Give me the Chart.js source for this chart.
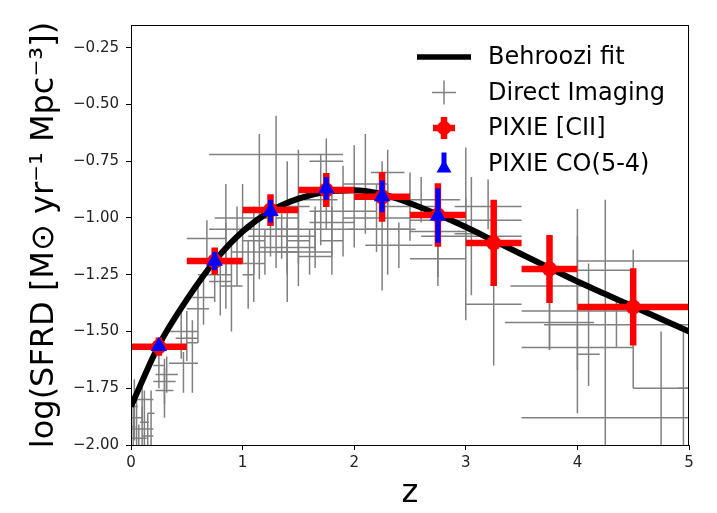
<!DOCTYPE html>
<html>
<head>
<meta charset="utf-8">
<script src="https://cdn.jsdelivr.net/npm/chart.js@4.4.1/dist/chart.umd.min.js"></script>
<style>
  body { margin: 0; background: #fff; }
  #wrap { width: 717px; height: 513px; }
</style>
</head>
<body>
<div id="wrap"><canvas id="sfrdChart"></canvas></div>
<script>
// Behroozi fit
const fitZ = [0, 0.25, 0.5, 0.75, 1.0, 1.25, 1.5, 1.75, 2.0, 2.25, 2.5, 2.75, 3.0, 3.25, 3.5, 3.75, 4.0, 4.25, 4.5, 4.75, 5.0];
const fitY = [-1.83, -1.56, -1.36, -1.19, -1.06, -0.97, -0.915, -0.885, -0.878, -0.895, -0.935, -0.985, -1.04, -1.10, -1.16, -1.22, -1.28, -1.335, -1.39, -1.445, -1.50];

// Direct imaging points: z, half width in z, value, lower / upper error
const diZ    = [0.05, 0.10, 0.07, 0.03, 0.15, 0.12, 0.10, 0.30, 0.30, 0.32, 0.25, 0.47, 0.50, 0.45, 0.55,
                0.68, 0.75, 0.80, 0.65, 0.85, 0.90, 0.95, 0.60, 0.85, 1.30, 1.15, 1.10, 1.25, 1.40, 1.20,
                1.50, 1.05, 1.00, 1.10, 1.40, 1.65, 1.80, 1.50, 1.70, 1.80, 1.90, 2.00, 2.10, 1.65, 2.20,
                2.30, 2.50, 1.60, 2.40, 1.75, 1.35, 1.40, 2.75, 2.75, 3.00, 2.60, 2.25, 2.30, 3.05, 3.25,
                3.00, 3.75, 4.00, 4.25, 4.50, 4.75, 4.10, 4.00, 4.00, 4.95, 3.75, 3.20, 4.35, 0.02, 0.18];
const diZErr = [0.05, 0.10, 0.07, 0.03, 0.05, 0.04, 0.10, 0.10, 0.08, 0.10, 0.05, 0.13, 0.10, 0.15, 0.05,
                0.18, 0.15, 0.10, 0.10, 0.15, 0.10, 0.05, 0.10, 0.15, 0.60, 0.15, 0.10, 0.25, 0.10, 0.20,
                0.10, 0.05, 0.25, 0.10, 0.10, 0.15, 0.10, 0.10, 0.15, 0.20, 0.30, 0.25, 0.20, 0.35, 0.30,
                0.20, 0.25, 0.20, 0.30, 0.15, 0.30, 0.25, 0.25, 0.25, 0.10, 0.35, 0.30, 0.15, 0.45, 0.25,
                0.50, 0.35, 0.50, 0.75, 0.50, 0.25, 0.10, 0.50, 0.50, 0.05, 0.40, 0.30, 0.65, 0.02, 0.03];
const diY    = [-1.88, -1.93, -1.97, -1.83, -1.96, -1.90, -1.80, -1.72, -1.76, -1.69, -1.65, -1.64, -1.53, -1.50, -1.55,
                -1.09, -1.25, -1.28, -1.35, -1.20, -1.30, -1.15, -1.40, -1.05, -0.72, -0.97, -1.10, -1.05, -1.00, -1.15,
                -1.10, -1.25, -1.00, -1.20, -1.15, -1.17, -1.10, -0.95, -0.92, -1.02, -0.97, -0.88, -0.85, -1.05, -1.00,
                -1.05, -0.95, -1.15, -1.12, -0.75, -1.08, -1.13, -1.06, -1.18, -1.07, -0.92, -1.05, -0.80, -1.08, -1.38,
                -1.01, -1.30, -1.41, -1.88, -1.19, -1.75, -1.60, -1.57, -1.23, -1.75, -1.46, -0.95, -1.47, -1.92, -1.86];
const diYLo  = [0.12, 0.10, 0.08, 0.15, 0.06, 0.12, 0.10, 0.10, 0.12, 0.08, 0.10, 0.13, 0.10, 0.12, 0.22,
                0.12, 0.12, 0.15, 0.12, 0.20, 0.20, 0.15, 0.15, 0.20, 0.50, 0.30, 0.15, 0.12, 0.25, 0.10,
                0.20, 0.15, 0.20, 0.17, 0.22, 0.05, 0.15, 0.25, 0.20, 0.15, 0.20, 0.25, 0.22, 0.10, 0.15,
                0.20, 0.15, 0.10, 0.10, 0.30, 0.10, 0.10, 0.20, 0.12, 0.38, 0.10, 0.27, 0.15, 0.26, 0.27,
                0.10, 0.28, 0.45, 0.12, 0.56, 0.25, 0.14, 0.10, 0.15, 0.25, 0.12, 0.10, 0.10, 0.10, 0.14];
const diYHi  = [0.12, 0.10, 0.06, 0.12, 0.10, 0.14, 0.10, 0.10, 0.10, 0.08, 0.10, 0.05, 0.12, 0.10, 0.10,
                0.08, 0.10, 0.12, 0.10, 0.18, 0.20, 0.20, 0.10, 0.20, 0.17, 0.34, 0.15, 0.12, 0.25, 0.10,
                0.20, 0.15, 0.15, 0.10, 0.15, 0.20, 0.15, 0.25, 0.20, 0.15, 0.20, 0.20, 0.22, 0.10, 0.15,
                0.20, 0.15, 0.10, 0.10, 0.10, 0.10, 0.10, 0.20, 0.10, 0.38, 0.10, 0.30, 0.10, 0.26, 0.12,
                0.10, 0.03, 0.45, 0.96, 0.05, 0.25, 0.40, 0.10, 0.15, 0.25, 0.10, 0.12, 0.10, 0.12, 0.10];

// PIXIE [CII]
const ciiZ    = [0.25, 0.75, 1.25, 1.75, 2.25, 2.75, 3.25, 3.75, 4.5];
const ciiZErr = [0.25, 0.25, 0.25, 0.25, 0.25, 0.25, 0.25, 0.25, 0.5];
const ciiY    = [-1.567, -1.19, -0.965, -0.877, -0.907, -0.987, -1.11, -1.225, -1.392];
const ciiYErr = [0.04, 0.06, 0.07, 0.075, 0.11, 0.14, 0.19, 0.15, 0.17];

// PIXIE CO(5-4)
const coZ    = [0.25, 0.75, 1.25, 1.75, 2.25, 2.75];
const coY    = [-1.565, -1.19, -0.97, -0.87, -0.905, -0.99];
const coYErr = [0.02, 0.04, 0.05, 0.05, 0.07, 0.12];

const xTicks = [0, 1, 2, 3, 4, 5];
const yTicks = [-2.0, -1.75, -1.5, -1.25, -1.0, -0.75, -0.5, -0.25];

const legendLabels = ['Behroozi fit', 'Direct Imaging', 'PIXIE [CII]', 'PIXIE CO(5-4)'];

function pts(xs, ys) {
    return xs.map((x, i) => ({ x: x, y: ys[i] }));
}

// error bars drawn underneath each dataset's markers
const errorBars = {
    id: 'errorBars',
    beforeDatasetDraw(chart, args) {
        const ds = chart.data.datasets[args.index];
        if (!ds.errYLo) return;
        const ctx = chart.ctx, xs = chart.scales.x, ys = chart.scales.y, a = chart.chartArea;
        ctx.save();
        ctx.beginPath();
        ctx.rect(a.left, a.top, a.right - a.left, a.bottom - a.top);
        ctx.clip();
        ctx.strokeStyle = ds.errColor;
        ctx.lineWidth = ds.errWidth;
        ctx.lineCap = 'butt';
        ds.data.forEach((p, i) => {
            const px = xs.getPixelForValue(p.x), py = ys.getPixelForValue(p.y);
            ctx.beginPath();
            if (ds.errX) {
                ctx.moveTo(xs.getPixelForValue(p.x - ds.errX[i]), py);
                ctx.lineTo(xs.getPixelForValue(p.x + ds.errX[i]), py);
            }
            ctx.moveTo(px, ys.getPixelForValue(p.y - ds.errYLo[i]));
            ctx.lineTo(px, ys.getPixelForValue(p.y + ds.errYHi[i]));
            ctx.stroke();
        });
        ctx.restore();
    }
};

// axes box and legend
const frameAndLegend = {
    id: 'frameAndLegend',
    afterDraw(chart) {
        const ctx = chart.ctx, a = chart.chartArea;
        ctx.save();
        ctx.strokeStyle = '#000';
        ctx.lineWidth = 1;
        ctx.strokeRect(a.left + 0.5, a.top + 0.5, a.right - a.left - 1, a.bottom - a.top);

        const mx = 444, tx = 488, rows = [57, 92.5, 128, 163.5];
        // Behroozi fit
        ctx.strokeStyle = '#000';
        ctx.lineWidth = 5.5;
        ctx.beginPath(); ctx.moveTo(417, rows[0]); ctx.lineTo(471, rows[0]); ctx.stroke();
        // Direct imaging
        ctx.strokeStyle = '#808080';
        ctx.lineWidth = 1.5;
        ctx.beginPath();
        ctx.moveTo(mx - 12, rows[1]); ctx.lineTo(mx + 12, rows[1]);
        ctx.moveTo(mx, rows[1] - 12); ctx.lineTo(mx, rows[1] + 12);
        ctx.stroke();
        // PIXIE [CII]
        ctx.strokeStyle = '#ff0000';
        ctx.lineWidth = 6.5;
        ctx.beginPath();
        ctx.moveTo(mx - 11, rows[2]); ctx.lineTo(mx + 11, rows[2]);
        ctx.moveTo(mx, rows[2] - 11); ctx.lineTo(mx, rows[2] + 11);
        ctx.stroke();
        ctx.fillStyle = '#ff0000';
        ctx.beginPath(); ctx.arc(mx, rows[2], 7, 0, Math.PI * 2); ctx.fill();
        // PIXIE CO(5-4)
        ctx.strokeStyle = '#0000ff';
        ctx.lineWidth = 5;
        ctx.beginPath(); ctx.moveTo(mx, rows[3] - 11); ctx.lineTo(mx, rows[3] + 8); ctx.stroke();
        ctx.fillStyle = '#0000ff';
        ctx.beginPath();
        ctx.moveTo(mx, rows[3] - 4);
        ctx.lineTo(mx + 7.5, rows[3] + 9);
        ctx.lineTo(mx - 7.5, rows[3] + 9);
        ctx.closePath(); ctx.fill();

        ctx.fillStyle = '#000';
        ctx.font = '24px "DejaVu Sans"';
        ctx.textBaseline = 'middle';
        ctx.textAlign = 'left';
        legendLabels.forEach((t, i) => ctx.fillText(t, tx, rows[i] + 1));
        ctx.restore();
    }
};

const tickFont = { family: 'DejaVu Sans', size: 15 };

const ctx = document.getElementById('sfrdChart').getContext('2d');
const sfrdChart = new Chart(ctx, {
    type: 'scatter',
    data: {
        datasets: [
            {
                label: legendLabels[3],
                data: pts(coZ, coY),
                pointStyle: 'triangle',
                pointRadius: 9.5,
                pointHoverRadius: 9.5,
                backgroundColor: '#0000ff',
                borderWidth: 0,
                errYLo: coYErr,
                errYHi: coYErr,
                errColor: '#0000ff',
                errWidth: 5,
                order: 0
            },
            {
                label: legendLabels[2],
                data: pts(ciiZ, ciiY),
                pointStyle: 'circle',
                pointRadius: 7.5,
                pointHoverRadius: 7.5,
                backgroundColor: '#ff0000',
                borderWidth: 0,
                errX: ciiZErr,
                errYLo: ciiYErr,
                errYHi: ciiYErr,
                errColor: '#ff0000',
                errWidth: 6.5,
                order: 1
            },
            {
                type: 'line',
                label: legendLabels[0],
                data: pts(fitZ, fitY),
                borderColor: '#000',
                borderWidth: 6,
                pointRadius: 0,
                cubicInterpolationMode: 'monotone',
                fill: false,
                clip: 0,
                order: 2
            },
            {
                label: legendLabels[1],
                data: pts(diZ, diY),
                pointRadius: 0,
                pointHoverRadius: 0,
                errX: diZErr,
                errYLo: diYLo,
                errYHi: diYHi,
                errColor: '#808080',
                errWidth: 1.5,
                order: 3
            }
        ]
    },
    options: {
        responsive: true,
        maintainAspectRatio: false,
        animation: false,
        layout: { padding: { top: 25, right: 28, left: 0, bottom: 0 } },
        plugins: { legend: { display: false }, tooltip: { enabled: false } },
        scales: {
            x: {
                type: 'linear',
                min: 0,
                max: 5,
                afterFit: s => { s.height = 68; },
                afterBuildTicks: s => { s.ticks = xTicks.map(v => ({ value: v })); },
                grid: { drawOnChartArea: false, drawTicks: true, tickLength: 5, tickColor: '#000' },
                border: { display: false },
                ticks: { font: tickFont, color: '#222', padding: 4, maxRotation: 0, callback: v => String(v) },
                title: { display: true, text: 'z', font: { family: 'DejaVu Sans', size: 32 }, color: '#000', padding: { top: 0, bottom: 0 } }
            },
            y: {
                type: 'linear',
                min: -2.0,
                max: -0.15,
                afterFit: s => { s.width = 131; },
                afterBuildTicks: s => { s.ticks = yTicks.map(v => ({ value: v })); },
                grid: { drawOnChartArea: false, drawTicks: true, tickLength: 5, tickColor: '#000' },
                border: { display: false },
                ticks: { font: tickFont, color: '#222', padding: 7, callback: v => (v < 0 ? '\u2212' : '') + Math.abs(v).toFixed(2) },
                title: { display: true, text: 'log(SFRD [M\u2299 yr\u207B\u00B9 Mpc\u207B\u00B3])', font: { family: 'DejaVu Sans', size: 32 }, color: '#000', padding: { top: 25, bottom: 0 } }
            }
        }
    },
    plugins: [errorBars, frameAndLegend]
});
</script>
</body>
</html>
